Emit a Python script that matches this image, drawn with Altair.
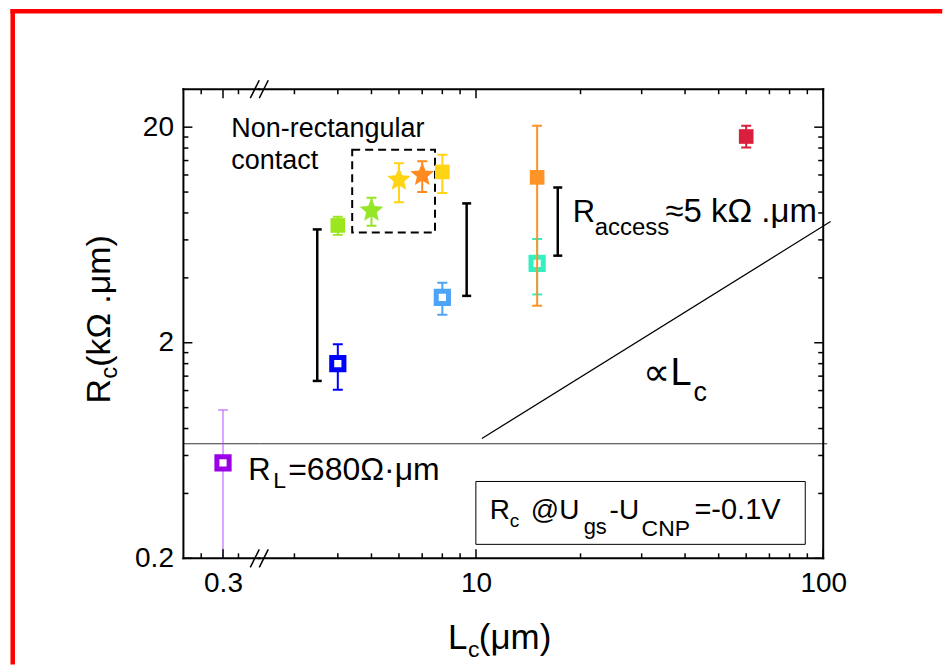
import altair as alt
import pandas as pd

FONT = "Liberation Sans"

# ---------------- data ----------------
series = ["p03", "blue", "lgreen", "gstar", "ystar", "ostar", "ysq", "lblue", "teal", "orange", "crimson"]
L_um = [0.3, 4.0, 4.0, 5.0, 6.0, 7.0, 8.0, 8.0, 15.0, 15.0, 60.0]
Rc = [0.555, 1.60, 7.0, 8.2, 11.4, 12.0, 12.4, 3.25, 4.67, 11.7, 18.1]
Rc_lo = [0.15, 1.21, 6.33, 6.98, 8.96, 10.0, 9.9, 2.70, 3.35, 2.97, 16.1]
Rc_hi = [0.975, 1.97, 7.69, 9.42, 13.6, 13.9, 14.9, 3.80, 6.06, 20.3, 20.3]

# R_access range bars (black)
acc_L = [3.49, 9.4, 17.2]
acc_lo = [1.33, 3.30, 5.07]
acc_hi = [6.71, 8.86, 10.5]

# dashed "non-rectangular contact" box
box_L = [4.40, 7.62]
box_R = [6.50, 15.7]

# R_L line and proportional guide line
R_L = [0.68]
prop_L = [10.4, 105.0]
prop_R = [0.72, 7.3]

# axis ticks
xL_major = [0.3]
xL_minor = [0.2, 0.4]
xR_major = [10, 100]
xR_minor = [3, 4, 5, 6, 7, 8, 9, 20, 30, 40, 50, 60, 70, 80, 90]
y_major = [0.2, 2, 20]
y_minor = [0.4, 0.6, 0.8, 1.0, 1.2, 1.4, 1.6, 1.8, 4, 6, 8, 10, 12, 14, 16, 18]

# ---------------- styles ----------------
colors = ["#9b00e8", "#0000ff", "#9be61e", "#95e626", "#ffd414", "#ff8a1f",
          "#ffd414", "#4da3f5", "#33f0c2", "#ff9326", "#d91f3d"]
err_colors = ["#b84dff"] + colors[1:]
kinds = ["open", "open", "filled", "star", "star", "star", "filled", "open", "open", "filled", "filled"]
STAR = ("M0,-1 L0.265,-0.364 L0.951,-0.309 L0.428,0.139 L0.588,0.809 L0,0.45 "
        "L-0.588,0.809 L-0.428,0.139 L-0.951,-0.309 L-0.265,-0.364 Z")

W_L, W_R, H = 76, 565, 470
X0, BRK, Y0 = 182, 258, 87          # panel origins in page pixels

pts = pd.DataFrame({"series": series, "L": L_um, "R": Rc, "lo": Rc_lo, "hi": Rc_hi})
acc = pd.DataFrame({"L": acc_L, "lo": acc_lo, "hi": acc_hi})
box = pd.DataFrame({"L1": [box_L[0]], "L2": [box_L[1]], "R1": [box_R[0]], "R2": [box_R[1]]})
rl = pd.DataFrame({"R": R_L})
prop = pd.DataFrame({"L": prop_L, "R": prop_R})
one = pd.DataFrame({"k": [0]})

ys = alt.Scale(type="log", domain=[0.2, 30], nice=False)
xsL = alt.Scale(type="log", domain=[0.1436, 0.589], nice=False)
xsR = alt.Scale(type="log", domain=[2.376, 100], nice=False)

lab = dict(labelFont=FONT, labelFontSize=28, labelColor="black", ticks=False, domain=False,
           grid=False, title=None, labelFlush=False, labelOverlap=False, format="~g")
axXL = alt.Axis(values=xL_major, labelPadding=11, **lab)
axXR = alt.Axis(values=xR_major, labelPadding=11, **lab)
axY = alt.Axis(values=y_major, labelPadding=10, **lab)


def mk(xs, axx, axy):
    def xe(f):
        return alt.X(f"{f}:Q", scale=xs, axis=axx)

    def ye(f):
        return alt.Y(f"{f}:Q", scale=ys, axis=axy)
    return xe, ye


def series_layers(i, xe, ye):
    base = alt.Chart(pts).transform_filter(f"datum.series == '{series[i]}'")
    ew = 1 if i == 0 else 2
    ec = err_colors[i]
    out = [
        base.mark_rule(color=ec, strokeWidth=ew, clip=True).encode(x=xe("L"), y=ye("lo"), y2="hi:Q"),
        base.mark_tick(orient="horizontal", color=ec, size=10, thickness=ew, opacity=1, clip=True)
            .encode(x=xe("L"), y=ye("lo")),
        base.mark_tick(orient="horizontal", color=ec, size=10, thickness=ew, opacity=1, clip=True)
            .encode(x=xe("L"), y=ye("hi")),
    ]
    k = kinds[i]
    if k == "open":
        m = base.mark_point(shape="square", filled=True, fill="white", stroke=colors[i],
                            strokeWidth=5, size=150, opacity=1)
    elif k == "filled":
        m = base.mark_point(shape="square", filled=True, color=colors[i], size=215, opacity=1)
    else:
        m = base.mark_point(shape=STAR, filled=True, color=colors[i], size=620, opacity=1)
    out.append(m.encode(x=xe("L"), y=ye("R")))
    return out


def frame_ticks(xe, ye, W, xmaj, xmin, left=False, right=False):
    L = []
    for vals, ln in ((xmaj, 9), (xmin, 5)):
        d = pd.DataFrame({"v": vals})
        L.append(alt.Chart(d).mark_rule(color="black", strokeWidth=1.5)
                 .encode(x=xe("v"), y=alt.value(H), y2=alt.value(H - ln)))
        L.append(alt.Chart(d).mark_rule(color="black", strokeWidth=1.5)
                 .encode(x=xe("v"), y=alt.value(0), y2=alt.value(ln)))
    for vals, ln in ((y_major, 9), (y_minor, 5)):
        d = pd.DataFrame({"v": vals})
        if left:
            L.append(alt.Chart(d).mark_rule(color="black", strokeWidth=1.5)
                     .encode(y=ye("v"), x=alt.value(0), x2=alt.value(ln)))
        if right:
            L.append(alt.Chart(d).mark_rule(color="black", strokeWidth=1.5)
                     .encode(y=ye("v"), x=alt.value(W), x2=alt.value(W - ln)))
    seg = alt.Chart(one).mark_rule(color="black", strokeWidth=2, strokeCap="square")
    L.append(seg.encode(x=alt.value(0), x2=alt.value(W), y=alt.value(H)))
    L.append(seg.encode(x=alt.value(0), x2=alt.value(W), y=alt.value(0)))
    if left:
        L.append(seg.encode(x=alt.value(0), y=alt.value(0), y2=alt.value(H)))
    if right:
        L.append(seg.encode(x=alt.value(W), y=alt.value(0), y2=alt.value(H)))
    return L


def T(s, X, Y, size, angle=0):
    return alt.Chart(one).mark_text(text=s, font=FONT, fontSize=size, angle=angle, align="left",
                                    baseline="alphabetic", color="black").encode(
        x=alt.value(X - BRK), y=alt.value(Y - Y0))


def seg(X1, Y1, X2, Y2, color="black", w=1.5):
    return alt.Chart(one).mark_rule(color=color, strokeWidth=w).encode(
        x=alt.value(X1 - BRK), x2=alt.value(X2 - BRK), y=alt.value(Y1 - Y0), y2=alt.value(Y2 - Y0))


# ---------------- left panel ----------------
xeL, yeL = mk(xsL, axXL, axY)
left_layers = [
    alt.Chart(rl).mark_rule(color="#333333", strokeWidth=1).encode(
        y=yeL("R"), x=alt.value(0), x2=alt.value(W_L)),
]
left_layers += series_layers(0, xeL, yeL)
left_layers += frame_ticks(xeL, yeL, W_L, xL_major, xL_minor, left=True)
red = alt.Chart(one).mark_rule(color="#ff0000", strokeWidth=4.5, strokeCap="square")
left_layers.append(red.encode(x=alt.value(11 - X0), x2=alt.value(940 - X0), y=alt.value(9 - Y0)))
left_layers.append(red.encode(x=alt.value(11 - X0), y=alt.value(9 - Y0), y2=alt.value(661 - Y0)))
left = alt.layer(*left_layers).properties(width=W_L, height=H)

# ---------------- right panel ----------------
xeR, yeR = mk(xsR, axXR, alt.Axis(values=y_major, labels=False, ticks=False, domain=False,
                                      grid=False, title=None))
right_layers = [
    alt.Chart(rl).mark_rule(color="#333333", strokeWidth=1).encode(
        y=yeR("R"), x=alt.value(0), x2=alt.value(W_R + 4)),
    alt.Chart(prop).mark_line(color="black", strokeWidth=1.2).encode(x=xeR("L"), y=yeR("R")),
    alt.Chart(acc).mark_rule(color="black", strokeWidth=2.5).encode(x=xeR("L"), y=yeR("lo"), y2="hi:Q"),
    alt.Chart(acc).mark_tick(orient="horizontal", color="black", size=9, thickness=2.5, opacity=1)
        .encode(x=xeR("L"), y=yeR("lo")),
    alt.Chart(acc).mark_tick(orient="horizontal", color="black", size=9, thickness=2.5, opacity=1)
        .encode(x=xeR("L"), y=yeR("hi")),
    alt.Chart(box).mark_rect(fillOpacity=0, stroke="black", strokeWidth=2, strokeDash=[8, 5])
        .encode(x=xeR("L1"), x2="L2:Q", y=yeR("R1"), y2="R2:Q"),
]
for i in range(1, len(series)):
    right_layers += series_layers(i, xeR, yeR)
right_layers += frame_ticks(xeR, yeR, W_R, xR_major, xR_minor, right=True)

# axis break marks
for yy in (Y0, Y0 + H):
    right_layers.append(seg(249, yy + 9, 258, yy - 9))
    right_layers.append(seg(258, yy + 9, 267, yy - 9))

# legend-like box
right_layers.append(alt.Chart(one).mark_rect(fill="white", stroke="black", strokeWidth=1).encode(
    x=alt.value(475 - BRK), x2=alt.value(805 - BRK), y=alt.value(480 - Y0), y2=alt.value(543 - Y0)))

# texts
right_layers += [
    T("Non-rectangular", 230, 135, 27),
    T("contact", 230, 167, 27),
    T("R", 572, 220, 31), T("access", 594, 233, 24), T("≈5 kΩ .μm", 665, 220, 33),
    T("R", 247, 479, 31), T("L", 272, 487, 23), T("=680Ω·μm", 287, 479, 32),
    T("∝", 642, 383, 38), T("L", 670, 383, 38), T("c", 693, 399, 27),
    T("R", 489, 518, 28), T("c", 509, 526, 19), T("@U", 530, 518, 28), T("gs", 583, 533, 22),
    T("-U", 609, 518, 28), T("CNP", 641, 535, 23), T("=-0.1V", 694, 518, 29),
    # axis titles
    T("L", 447, 648, 35), T("c", 467, 656, 23), T("(μm)", 478, 648, 35),
    T("R", 108, 402, 34, angle=270), T("c", 115, 377, 24, angle=270),
    T("(kΩ .μm)", 108, 365, 34, angle=270),
]
right = alt.layer(*right_layers).properties(width=W_R, height=H)

chart = alt.hconcat(left, right, spacing=0, bounds="flush").properties(
    padding={"left": 8.75, "top": 6.75, "right": 0, "bottom": 0},
    background="white",
).configure_view(stroke=None)

chart.save("out.html", embed_options={"renderer": "svg", "actions": False})
